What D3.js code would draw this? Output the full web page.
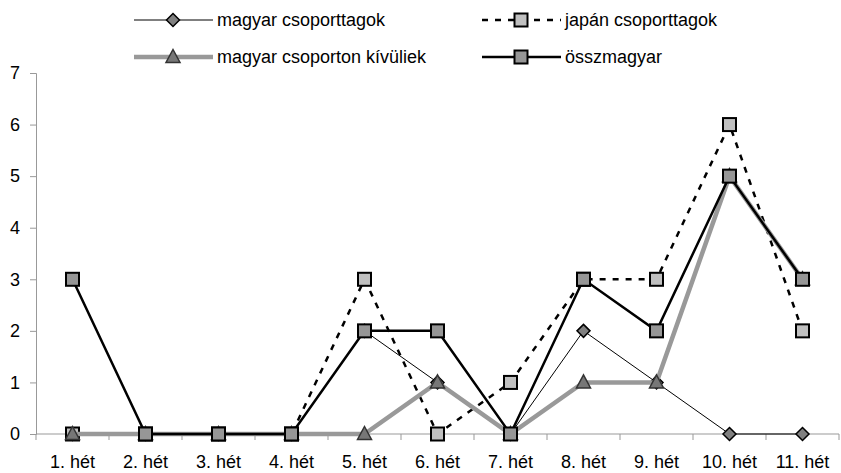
<!DOCTYPE html>
<html><head><meta charset="utf-8">
<script src="https://cdn.jsdelivr.net/npm/d3@7"></script>
<style>body{margin:0;background:#fff}svg{display:block}</style>
</head><body>
<svg id="c" width="841" height="473"></svg>
<script>
const categories = ["1. hét","2. hét","3. hét","4. hét","5. hét","6. hét","7. hét","8. hét","9. hét","10. hét","11. hét"];
const magyarCsoporttagok = [0,0,0,0,2,1,0,2,1,0,0];
const japanCsoporttagok = [0,0,0,0,3,0,1,3,3,6,2];
const magyarKivuliek = [0,0,0,0,0,1,0,1,1,5,3];
const osszmagyar = [3,0,0,0,2,2,0,3,2,5,3];
const yTicks = [0,1,2,3,4,5,6,7];
const seriesNames = ["magyar csoporttagok","japán csoporttagok","magyar csoporton kívüliek","összmagyar"];

const FONT = "'Liberation Sans', Arial, sans-serif";
const FS = 18;
const svg = d3.select("#c");
const x = d3.scaleBand().domain(categories).range([36, 839]);
const y = d3.scaleLinear().domain([0,7]).range([434, 73]);
const cx = d => x(d) + x.bandwidth()/2;

// axes
const yAxis = svg.append("g").attr("transform","translate(36,0)")
  .call(d3.axisLeft(y).tickValues(yTicks).tickSize(6).tickPadding(10).tickFormat(d3.format("d")));
yAxis.select(".domain").attr("stroke","#999");
yAxis.selectAll(".tick line").attr("stroke","#999");
yAxis.selectAll("text").attr("font-size",FS).attr("fill","#000").attr("font-family",FONT);

const xg = svg.append("g");
xg.append("line").attr("x1",36).attr("x2",839).attr("y1",434).attr("y2",434).attr("stroke","#999");
const bounds = categories.map(c => x(c)).concat([x(categories[categories.length-1]) + x.bandwidth()]);
xg.selectAll(".xt").data(bounds).enter().append("line")
  .attr("x1",d=>d).attr("x2",d=>d).attr("y1",434).attr("y2",440).attr("stroke","#999");
xg.selectAll(".xl").data(categories).enter().append("text")
  .attr("x",d=>cx(d)).attr("y",468).attr("text-anchor","middle")
  .attr("font-size",FS).attr("font-family",FONT).text(d=>d);

const line = d3.line().x((d,i)=>cx(categories[i])).y(d=>y(d));

const styles = [
  {data: magyarCsoporttagok, stroke:"#000", width:1, dash:null, marker:"diamond", fill:"#808080"},
  {data: japanCsoporttagok, stroke:"#000", width:2.5, dash:"6,7", marker:"square", fill:"#c0c0c0"},
  {data: magyarKivuliek, stroke:"#999", width:4.5, dash:null, marker:"triangle", fill:"#777"},
  {data: osszmagyar, stroke:"#000", width:2.5, dash:null, marker:"square", fill:"#969696"}
];

function drawMarker(g, type, px, py, fill){
  if(type==="square"){
    g.append("rect").attr("x",px-6.5).attr("y",py-6.5).attr("width",13).attr("height",13)
      .attr("fill",fill).attr("stroke","#000").attr("stroke-width",2);
  } else if(type==="diamond"){
    g.append("path").attr("d",`M${px},${py-6.5}L${px+6.5},${py}L${px},${py+6.5}L${px-6.5},${py}Z`)
      .attr("fill",fill).attr("stroke","#000").attr("stroke-width",1.5);
  } else {
    g.append("path").attr("d",`M${px},${py-7.5}L${px+7},${py+5.5}L${px-7},${py+5.5}Z`)
      .attr("fill",fill).attr("stroke","#333").attr("stroke-width",1.5);
  }
}

styles.forEach(s=>{
  const g = svg.append("g");
  g.append("path").attr("d",line(s.data)).attr("fill","none").attr("stroke",s.stroke)
    .attr("stroke-width",s.width).attr("stroke-dasharray",s.dash).attr("stroke-linejoin","miter");
  s.data.forEach((v,i)=>drawMarker(g, s.marker, cx(categories[i]), y(v), s.fill));
});

// legend
const legendPos = [
  {x1:134,x2:213,mx:173,tx:217,y:20},
  {x1:482,x2:561,mx:521,tx:565,y:20},
  {x1:134,x2:213,mx:173,tx:217,y:57},
  {x1:482,x2:561,mx:521,tx:565,y:57}
];
styles.forEach((s,i)=>{
  const p = legendPos[i];
  const g = svg.append("g");
  g.append("line").attr("x1",p.x1).attr("x2",p.x2).attr("y1",p.y).attr("y2",p.y)
    .attr("stroke",s.stroke).attr("stroke-width",s.width).attr("stroke-dasharray",s.dash);
  drawMarker(g, s.marker, p.mx, p.y, s.fill);
  g.append("text").attr("x",p.tx).attr("y",p.y+6).attr("font-size",FS)
    .attr("font-family",FONT).text(seriesNames[i]);
});
</script>
</body></html>
